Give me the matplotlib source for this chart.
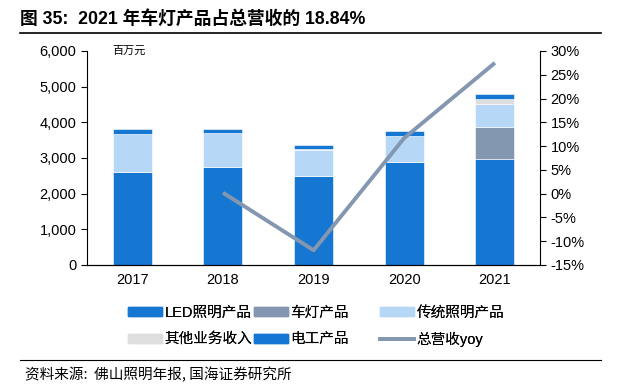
import matplotlib

matplotlib.use("Agg")
import matplotlib.pyplot as plt
from matplotlib.lines import Line2D
from matplotlib.patches import Patch
from matplotlib.ticker import FuncFormatter

plt.rcParams["font.family"] = ["Liberation Sans", "Noto Sans CJK SC"]

years = ["2017", "2018", "2019", "2020", "2021"]
led = [2600, 2745, 2500, 2874, 2978]
car = [0, 0, 0, 0, 889]
trad = [1065, 950, 730, 736, 644]
other = [10, 10, 20, 15, 140]
elec = [150, 120, 120, 140, 148]
yoy_years = ["2018", "2019", "2020", "2021"]
yoy = [0.2, -11.9, 11.7, 27.5]

C_LED = "#1677d2"
C_CAR = "#8497b0"
C_TRAD = "#b6d7f6"
C_OTHER = "#dedede"
C_ELEC = "#1677d2"
C_LINE = "#8497b0"

fig = plt.figure(figsize=(6.21, 3.92), dpi=100)
ax = fig.add_axes([0.140, 0.324, 0.730, 0.546])

x = list(range(len(years)))
bottom = [0] * len(years)
series = [(led, C_LED), (car, C_CAR), (trad, C_TRAD), (other, C_OTHER), (elec, C_ELEC)]
for vals, col in series:
    ax.bar(x, vals, 0.43, bottom=bottom, color=col, edgecolor="white", lw=0.4)
    bottom = [b + v for b, v in zip(bottom, vals)]

ax.set_xlim(-0.5, 4.5)
ax.set_ylim(0, 6000)
ax.set_yticks(range(0, 6001, 1000))
ax.yaxis.set_major_formatter(FuncFormatter(lambda v, p: f"{v:,.0f}"))
ax.set_xticks(x)
ax.set_xticklabels(years)
ax.tick_params(axis="both", labelsize=10.5, colors="black", length=4)
ax.tick_params(axis="x", length=0, pad=6)
ax.spines["top"].set_visible(False)
ax.spines["right"].set_visible(False)
ax.text(0.055, 1.0, "百万元", transform=ax.transAxes, fontsize=8,
        family=["Noto Sans CJK SC"], va="center")

ax2 = ax.twinx()
ax2.plot([years.index(y) for y in yoy_years], yoy, color=C_LINE, lw=2.8,
         solid_capstyle="butt")
ax2.set_ylim(-15, 30)
ax2.set_yticks(range(-15, 31, 5))
ax2.yaxis.set_major_formatter(FuncFormatter(lambda v, p: f"{v:.0f}%"))
ax2.tick_params(axis="y", labelsize=10.5, length=4)
ax2.spines["top"].set_visible(False)
ax2.spines["left"].set_visible(False)

# title / footer
fig.text(0.032, 0.952, "图 35:  2021 年车灯产品占总营收的 18.84%", fontsize=12.8,
         fontweight="bold", va="center")
fig.add_artist(Line2D([0.032, 0.968], [0.916, 0.916], color="black", lw=1.2))
fig.add_artist(Line2D([0.032, 0.968], [0.082, 0.082], color="black", lw=0.8))
fig.text(0.040, 0.045, "资料来源:  佛山照明年报, 国海证券研究所", fontsize=10.5,
         family=["Noto Sans CJK SC"], va="center")

# legend: three columns placed by hand
columns = [
    ([Patch(color=C_LED), Patch(color=C_OTHER)], ["LED照明产品", "其他业务收入"], 0.206),
    ([Patch(color=C_CAR), Patch(color=C_ELEC)], ["车灯产品", "电工产品"], 0.409),
    ([Patch(color=C_TRAD), Line2D([], [], color=C_LINE, lw=2.8)], ["传统照明产品", "总营收yoy"], 0.612),
]
for hs, ls, x0 in columns:
    leg = fig.legend(hs, ls, loc="center left", bbox_to_anchor=(x0, 0.168),
                     frameon=False, fontsize=10.5, handlelength=2.35, handleheight=0.6,
                     handletextpad=0.15, labelspacing=0.85, borderpad=0,
                     borderaxespad=0)
    fig.add_artist(leg)

fig.savefig("out.png", dpi=100)
